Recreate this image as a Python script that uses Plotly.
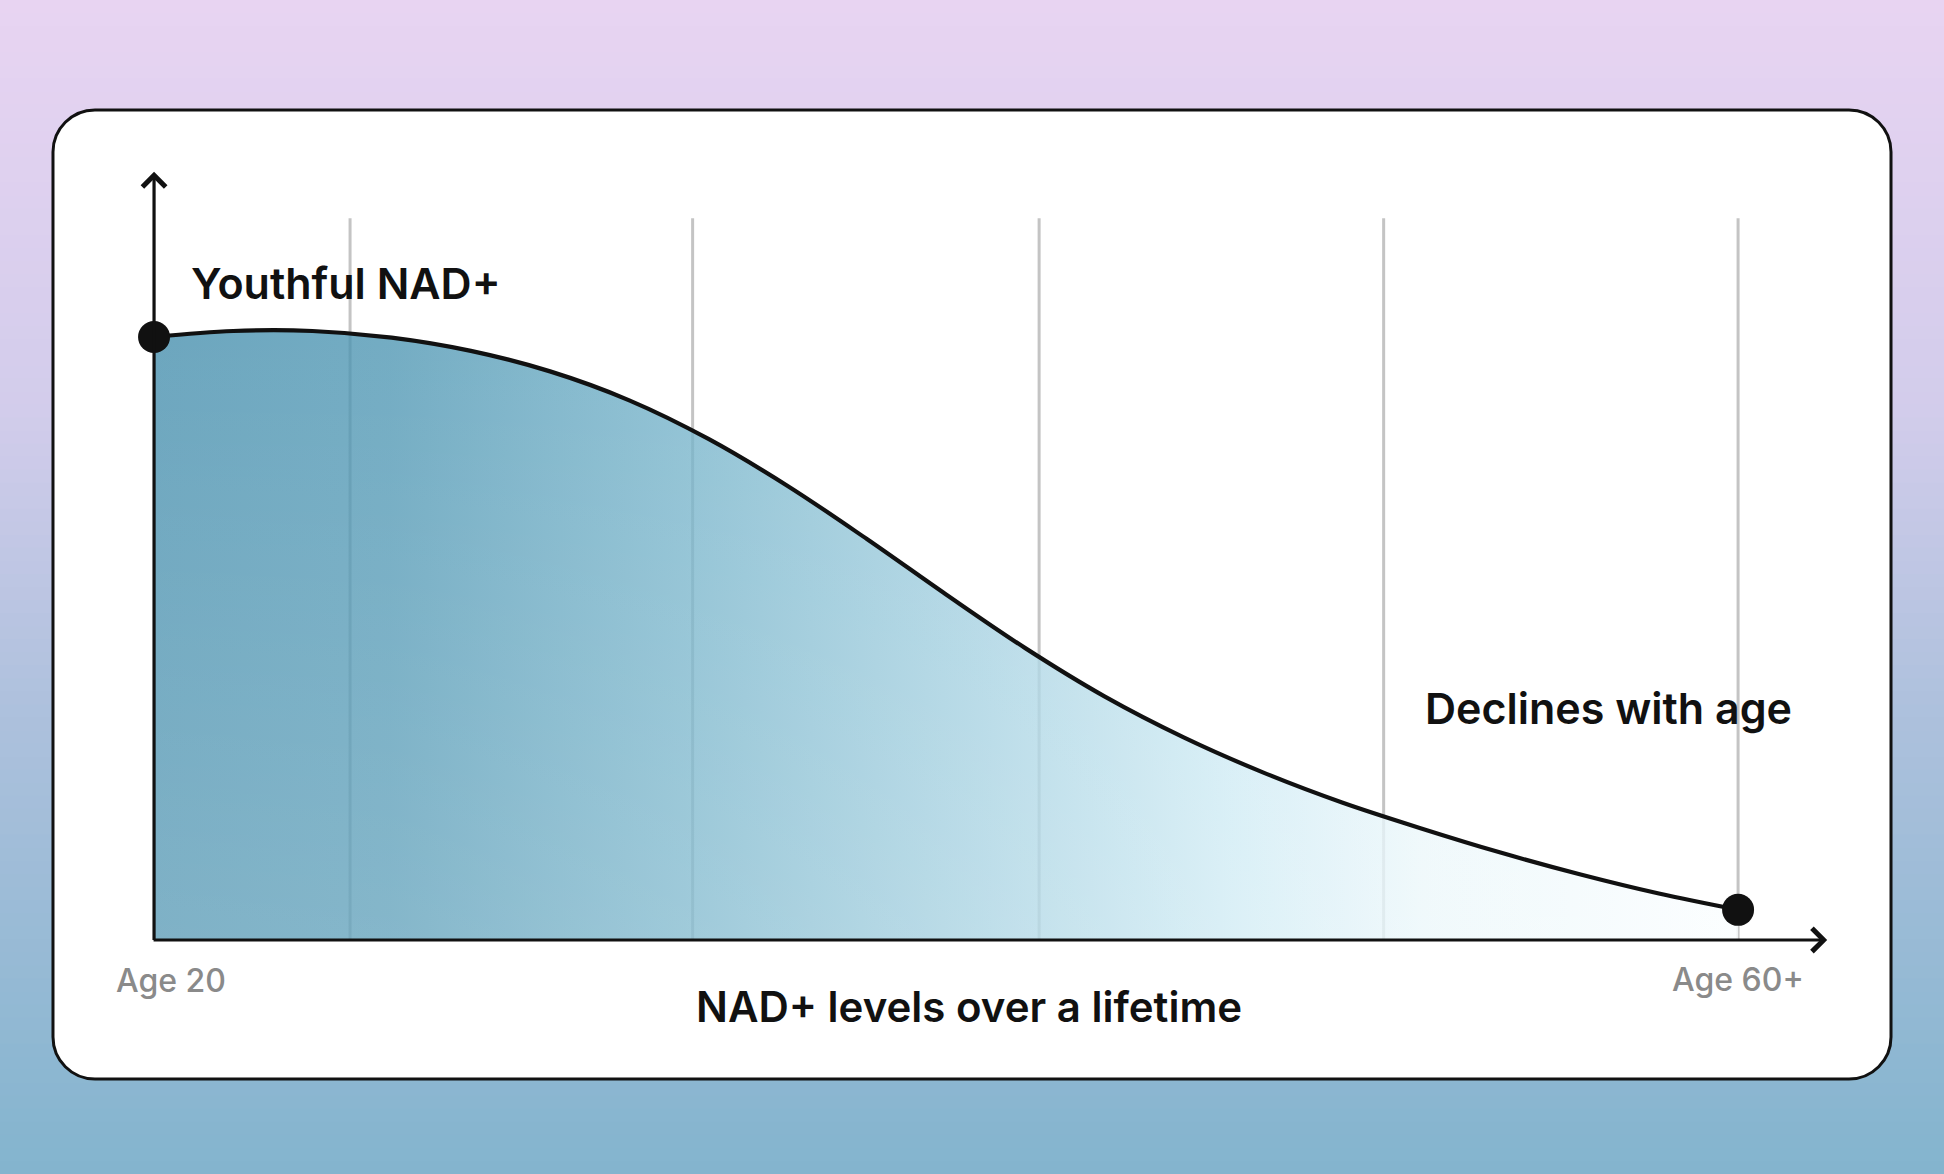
import plotly.graph_objects as go

W, H = 1944, 1174

# NAD+ level (relative, start = 100) every two years
ages = [20, 22, 24, 26, 28, 30, 32, 34, 36, 38, 40,
        42, 44, 46, 48, 50, 52, 54, 56, 58, 60]
nad_levels = [100, 101.0, 101.0, 99.9, 97.7, 94.3, 89.5, 83.1, 75.3, 66.5, 57.3,
              48.4, 40.4, 33.6, 27.8, 22.8, 18.5, 14.5, 10.9, 7.7, 5.0]

endpoint_ages = [20, 60]
endpoint_levels = [100, 5.0]

grid_ages = [24.95, 33.6, 42.35, 51.05, 60]
grid_top = 119.7

start_label = "Youthful NAD+"
end_label = "Declines with age"
axis_title = "NAD+ levels over a lifetime"
tick_labels = ["Age 20", "Age 60+"]

# axis ranges chosen so the chart sits inside the card
x_range = [16.11, 65.2]
y_range = [-38.81, 155.89]

FONT = "Inter"
INK = "#111111"


def fx(p):
    return p / W


def fy(p):
    return 1 - p / H


def mix(c1, c2, t):
    return tuple(round(a + (b - a) * t) for a, b in zip(c1, c2))


def see_through(hexcol, a=0.78):
    # colour with alpha a that looks like hexcol when laid over white
    rgb = [int(hexcol[i:i + 2], 16) for i in (1, 3, 5)]
    c = [max(0, min(255, round((v - (1 - a) * 255) / a))) for v in rgb]
    return "rgba(%d,%d,%d,%.2f)" % (c[0], c[1], c[2], a)


# background gradient (lavender -> blue)
bg_stops = [(0.0, (232, 212, 242)), (0.35, (210, 204, 235)),
            (0.6, (174, 193, 221)), (1.0, (131, 180, 206))]
shapes = []
n = 90
for i in range(n):
    t = (i + 0.5) / n
    for (t0, c0), (t1, c1) in zip(bg_stops[:-1], bg_stops[1:]):
        if t0 <= t <= t1:
            col = mix(c0, c1, (t - t0) / (t1 - t0))
            break
    shapes.append(dict(type="rect", xref="paper", yref="paper", layer="below",
                       x0=0, x1=1, y0=1 - i / n, y1=1 - (i + 1) / n - 0.002,
                       fillcolor="rgb(%d,%d,%d)" % col, line_width=0))

# white card with rounded corners
x0, x1, y0, y1, r = 53, 1891, 110, 1079, 42
k = 0.5523 * r
pts = [
    ("M", [(x0 + r, y0)]),
    ("L", [(x1 - r, y0)]),
    ("C", [(x1 - r + k, y0), (x1, y0 + r - k), (x1, y0 + r)]),
    ("L", [(x1, y1 - r)]),
    ("C", [(x1, y1 - r + k), (x1 - r + k, y1), (x1 - r, y1)]),
    ("L", [(x0 + r, y1)]),
    ("C", [(x0 + r - k, y1), (x0, y1 - r + k), (x0, y1 - r)]),
    ("L", [(x0, y0 + r)]),
    ("C", [(x0, y0 + r - k), (x0 + r - k, y0), (x0 + r, y0)]),
]
path = ""
for cmd, ps in pts:
    path += cmd + " ".join("%.5f,%.5f" % (fx(a), fy(b)) for a, b in ps)
path += "Z"
shapes.append(dict(type="path", xref="paper", yref="paper", layer="below",
                   path=path, fillcolor="white", line=dict(color=INK, width=3)))

fig = go.Figure()

# vertical guide lines (under the area so they only show faintly through it)
gx, gy = [], []
for a in grid_ages:
    gx += [a, a, None]
    gy += [0, grid_top, None]
fig.add_trace(go.Scatter(x=gx, y=gy, mode="lines",
                         line=dict(color="#c4c4c4", width=3),
                         hoverinfo="skip", showlegend=False))

# gradient area under the curve
fill_stops = [[0.0, "#6ca6be"], [0.15, "#73acc3"], [0.34, "#92c3d5"],
              [0.52, "#b4d9e6"], [0.68, "#d6eef6"], [0.8, "#eef8fb"], [1.0, "#fbfeff"]]
fig.add_trace(go.Scatter(
    x=ages, y=nad_levels, mode="lines",
    line=dict(width=0, shape="spline", simplify=False),
    fill="tozeroy",
    fillgradient=dict(type="horizontal",
                      colorscale=[[s, see_through(c)] for s, c in fill_stops]),
    hoverinfo="skip", showlegend=False))
# lighten towards the bottom so the shading runs diagonally
fig.add_trace(go.Scatter(
    x=ages, y=nad_levels, mode="lines",
    line=dict(width=0, shape="spline", simplify=False),
    fill="tozeroy",
    fillgradient=dict(type="vertical", start=0, stop=101,
                      colorscale=[[0, "rgba(255,255,255,0.13)"],
                                  [1, "rgba(255,255,255,0)"]]),
    hoverinfo="skip", showlegend=False))

# curve
fig.add_trace(go.Scatter(x=ages, y=nad_levels, mode="lines",
                         line=dict(color=INK, width=4.2, shape="spline", simplify=False),
                         showlegend=False))

# end points
fig.add_trace(go.Scatter(x=endpoint_ages, y=endpoint_levels, mode="markers",
                         marker=dict(color=INK, size=32), showlegend=False))

arrow = dict(xref="x", yref="y", axref="x", ayref="y", text="", showarrow=True,
             arrowhead=4, arrowsize=1.4, arrowwidth=3.2, arrowcolor=INK,
             standoff=0, startstandoff=0)
label_font = dict(family=FONT, size=43, color=INK, weight=600)
tick_font = dict(family=FONT, size=32, color="#8a8a8a", weight=500)

annotations = [
    dict(arrow, x=62.25, y=0, ax=19.95, ay=0),
    dict(arrow, x=20, y=127.4, ax=20, ay=-0.25),
    dict(x=20.88, y=109, xref="x", yref="y", text=start_label, showarrow=False,
         xanchor="left", yanchor="middle", font=label_font),
    dict(x=52.05, y=38.5, xref="x", yref="y", text=end_label, showarrow=False,
         xanchor="left", yanchor="middle", font=label_font),
    dict(x=40.58, y=-11.1, xref="x", yref="y", text=axis_title, showarrow=False,
         xanchor="center", yanchor="middle", font=dict(label_font, size=42)),
    dict(x=20.43, y=-6.8, xref="x", yref="y", text=tick_labels[0], showarrow=False,
         xanchor="center", yanchor="middle", font=tick_font),
    dict(x=60, y=-6.5, xref="x", yref="y", text=tick_labels[1], showarrow=False,
         xanchor="center", yanchor="middle", font=tick_font),
]

fig.update_layout(
    width=W, height=H,
    margin=dict(l=0, r=0, t=0, b=0),
    paper_bgcolor="rgb(190,196,226)",
    plot_bgcolor="rgba(0,0,0,0)",
    shapes=shapes,
    annotations=annotations,
    xaxis=dict(range=x_range, visible=False, fixedrange=True),
    yaxis=dict(range=y_range, visible=False, fixedrange=True),
    showlegend=False,
)

fig.write_html("out.html", config={"displayModeBar": False},
               post_script="document.body.style.margin='0';")
